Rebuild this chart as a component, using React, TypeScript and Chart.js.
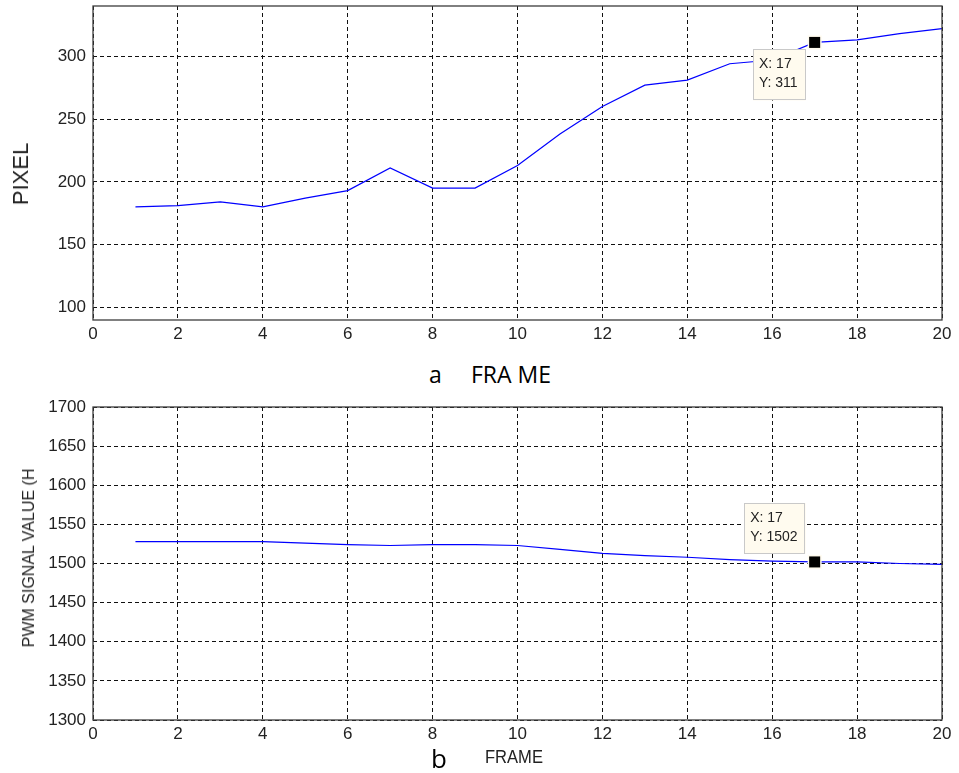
import React, { useEffect, useRef } from 'react';
import { Chart, registerables } from 'chart.js';

Chart.register(...registerables);

// ---------- data ----------
const frames = [1, 2, 3, 4, 5, 6, 7, 8, 9, 10, 11, 12, 13, 14, 15, 16, 17, 18, 19, 20];
const pixelValues = [180, 181, 184, 180, 187, 193, 211, 195, 195, 213, 238, 260, 277, 281, 294, 297, 311, 313, 318, 322];
const pwmValues = [1528, 1528, 1528, 1528, 1526, 1524, 1523, 1524, 1524, 1523, 1518, 1513, 1510, 1508, 1505, 1503, 1502, 1502, 1500, 1499];
const xTicks = [0, 2, 4, 6, 8, 10, 12, 14, 16, 18, 20];
const pixelTicks = [100, 150, 200, 250, 300];
const pwmTicks = [1300, 1350, 1400, 1450, 1500, 1550, 1600, 1650, 1700];
const tipFrame = 17;
const pixelTip = 311;
const pwmTip = 1502;

const TICK_FONT = { family: "'Liberation Sans', Arial, sans-serif", size: 17 };
const TEXT_COLOR = '#222';

const framePlugin = {
  id: 'plotFrame',
  afterDraw(chart: any) {
    const { ctx, chartArea } = chart;
    ctx.save();
    ctx.strokeStyle = '#3c3c3c';
    ctx.lineWidth = 1.3;
    ctx.strokeRect(chartArea.left, chartArea.top, chartArea.right - chartArea.left, chartArea.bottom - chartArea.top);
    ctx.restore();
  },
};

const datatipPlugin = {
  id: 'datatip',
  afterDatasetsDraw(chart: any, _args: any, opts: any) {
    if (!opts || opts.x === undefined) return;
    const { ctx } = chart;
    const xs = chart.scales.x;
    const ys = chart.scales.y;
    const px = xs.getPixelForValue(opts.x);
    const py = ys.getPixelForValue(opts.y);
    ctx.save();
    ctx.font = "14px 'Liberation Sans', Arial, sans-serif";
    const lines = ['X: ' + opts.x, 'Y: ' + opts.y];
    const w = Math.max(...lines.map((l) => ctx.measureText(l).width)) + 14;
    const h = 51;
    const bx = px - 9 - w;
    const by = opts.place === 'below' ? py + 7 : py - 8 - h;
    ctx.fillStyle = '#fffbef';
    ctx.fillRect(bx, by, w, h);
    ctx.strokeStyle = '#c9c9c9';
    ctx.lineWidth = 1;
    ctx.strokeRect(Math.round(bx) + 0.5, Math.round(by) + 0.5, Math.round(w) - 1, h - 1);
    ctx.fillStyle = TEXT_COLOR;
    ctx.textBaseline = 'middle';
    ctx.textAlign = 'left';
    ctx.fillText(lines[0], bx + 6, by + 15);
    ctx.fillText(lines[1], bx + 6, by + 34);
    ctx.fillStyle = '#fffbef';
    ctx.fillRect(px - 7, py - 7, 14, 14);
    ctx.fillStyle = '#000';
    ctx.fillRect(px - 5.5, py - 5.5, 11, 11);
    ctx.restore();
  },
};

function makeConfig(values: number[], yMin: number, yMax: number, yTicks: number[], padTop: number, xAxisHeight: number, tip: any) {
  const gridOpts = { color: '#111', lineWidth: 1, drawTicks: false };
  const borderOpts = { display: false, dash: [4, 3] };
  return {
    type: 'line',
    data: {
      datasets: [
        {
          data: frames.map((f, i) => ({ x: f, y: values[i] })),
          borderColor: '#0000ff',
          borderWidth: 1.2,
          pointRadius: 0,
          tension: 0,
          fill: false,
        },
      ],
    },
    options: {
      responsive: false,
      animation: false,
      events: [],
      layout: { padding: { top: padTop, right: 17, left: 0, bottom: 0 } },
      plugins: {
        legend: { display: false },
        tooltip: { enabled: false },
        datatip: tip,
      },
      scales: {
        x: {
          type: 'linear',
          min: 0,
          max: 20,
          afterBuildTicks: (s: any) => {
            s.ticks = xTicks.map((v) => ({ value: v }));
          },
          afterFit: (s: any) => {
            s.height = xAxisHeight;
            s.paddingLeft = 0;
            s.paddingRight = 0;
          },
          grid: gridOpts,
          border: borderOpts,
          ticks: { padding: 4, font: TICK_FONT, color: TEXT_COLOR, maxRotation: 0, autoSkip: false, callback: (v: any) => String(v) },
        },
        y: {
          type: 'linear',
          min: yMin,
          max: yMax,
          afterBuildTicks: (s: any) => {
            s.ticks = yTicks.map((v) => ({ value: v }));
          },
          afterFit: (s: any) => {
            s.width = 93;
            s.paddingTop = 0;
            s.paddingBottom = 0;
          },
          grid: gridOpts,
          border: borderOpts,
          ticks: { padding: 7, font: TICK_FONT, color: TEXT_COLOR, autoSkip: false, callback: (v: any) => String(v) },
        },
      },
    },
    plugins: [framePlugin, datatipPlugin],
  };
}

function App() {
  const topRef = useRef<HTMLCanvasElement>(null);
  const botRef = useRef<HTMLCanvasElement>(null);

  useEffect(() => {
    const c1 = new Chart(topRef.current as any, makeConfig(pixelValues, 90, 340, pixelTicks, 6, 25, { x: tipFrame, y: pixelTip, place: 'below' }) as any);
    const c2 = new Chart(botRef.current as any, makeConfig(pwmValues, 1300, 1700, pwmTicks, 17, 53, { x: tipFrame, y: pwmTip, place: 'above' }) as any);
    return () => {
      c1.destroy();
      c2.destroy();
    };
  }, []);

  const arial = "'Liberation Sans', Arial, sans-serif";
  const calibriLike = "'Open Sans', 'Noto Sans', sans-serif";

  return (
    <div style={{ position: 'absolute', left: 0, top: 0, width: 959, height: 773, background: '#fff', overflow: 'hidden' }}>
      <canvas ref={topRef} width={959} height={345} style={{ position: 'absolute', left: 0, top: 0, width: 959, height: 345 }} />
      <canvas ref={botRef} width={959} height={383} style={{ position: 'absolute', left: 0, top: 390, width: 959, height: 383 }} />

      <div style={{ position: 'absolute', left: 21, top: 174, transform: 'translate(-50%, -50%) rotate(-90deg)', fontFamily: arial, fontSize: 22, lineHeight: 1, whiteSpace: 'nowrap', color: TEXT_COLOR }}>
        PIXEL
      </div>
      <div style={{ position: 'absolute', left: 29, top: 558, transform: 'translate(-50%, -50%) rotate(-90deg)', fontFamily: arial, fontSize: 16, lineHeight: 1, whiteSpace: 'nowrap', color: TEXT_COLOR }}>
        PWM SIGNAL VALUE (H
      </div>

      <div style={{ position: 'absolute', left: 429, top: 363, fontFamily: calibriLike, fontSize: 23, lineHeight: 1, whiteSpace: 'nowrap', color: '#000' }}>a</div>
      <div style={{ position: 'absolute', left: 471, top: 363, fontFamily: calibriLike, fontSize: 23, lineHeight: 1, whiteSpace: 'nowrap', color: '#000' }}>FRA ME</div>

      <div style={{ position: 'absolute', left: 431, top: 745, fontFamily: calibriLike, fontSize: 26, lineHeight: 1, whiteSpace: 'nowrap', color: '#000' }}>b</div>
      <div style={{ position: 'absolute', left: 485, top: 748, fontFamily: arial, fontSize: 18, lineHeight: 1, whiteSpace: 'nowrap', color: TEXT_COLOR, transform: 'scaleX(0.92)', transformOrigin: 'left center' }}>
        FRAME
      </div>
    </div>
  );
}

export default App;
